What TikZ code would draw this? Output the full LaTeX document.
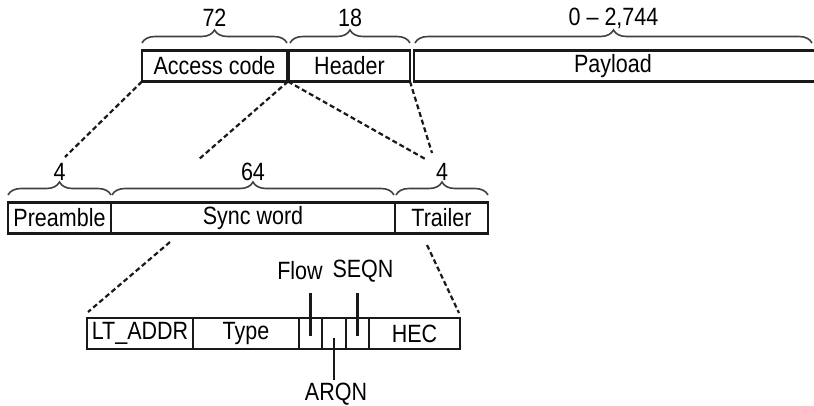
\documentclass[tikz,border=0pt]{standalone}
\usepackage{fontspec}
\setmainfont{Liberation Sans}[FakeStretch=0.86]
\usetikzlibrary{decorations.pathreplacing}
\tikzset{
  field/.style={draw=black!90,line width=2.3pt,minimum height=31pt,inner sep=0pt,outer sep=0pt,anchor=west},
  brc/.style={draw=black!75,line width=1.6pt,decorate,decoration={brace,amplitude=13pt}},
  zoomline/.style={draw=black!90,line width=2.2pt,dash pattern=on 5pt off 3pt},
  bitline/.style={draw=black!90,line width=2.2pt}
}
\begin{document}
\begin{tikzpicture}[x=1pt,y=-1pt,font=\fontsize{25}{29}\selectfont]
\pgfmathsetmacro{\ya}{66}
\pgfmathsetmacro{\yb}{218}
\pgfmathsetmacro{\yc}{333.5}
\clip(0,0)rectangle(814,405);
% packet
\node[field,minimum width=145pt](access)at(142,\ya){Access code};
\node[field,minimum width=121pt](header)at(289,\ya){Header};
\node[field,minimum width=420pt](payload)at(414,\ya){\hspace*{-22pt}Payload};
\draw[brc](142,43)--(287,43)node[midway,yshift=25pt]{72};
\draw[brc](290,43)--(410,43)node[midway,yshift=25pt]{18};
\draw[brc](415,43)--(812,43)node[midway,yshift=25pt]{0 -- 2,744};
% access code
\node[field,minimum width=103pt](pre)at(8,\yb){Preamble};
\node[field,minimum width=284pt](sync)at(111,\yb){Sync word};
\node[field,minimum width=93pt](trailer)at(395,\yb){Trailer};
\draw[brc](8,195)--(111,195)node[midway,yshift=23pt]{4};
\draw[brc](112,195)--(394,195)node[midway,yshift=23pt]{64};
\draw[brc](396,195)--(488,195)node[midway,yshift=23pt]{4};
\coordinate(pa)at(65,157);
\coordinate(pb)at(198,160);
\coordinate(pc)at(427,160);
\coordinate(pd)at(432,153);
\draw[zoomline](access.south west)--(pa);
\draw[zoomline]([xshift=1pt]access.south east)--(pb);
\draw[zoomline]([xshift=1pt]access.south east)--(pc);
\draw[zoomline](header.south east)--(pd);
% header
\node[field,minimum width=106pt](ltaddr)at(87,\yc){LT\_ADDR};
\node[field,minimum width=106pt](type)at(193,\yc){Type};
\node[field,minimum width=23pt](flowbox)at(299,\yc){};
\node[field,minimum width=24pt](arqnbox)at(322,\yc){};
\node[field,minimum width=23pt](seqnbox)at(346,\yc){};
\node[field,minimum width=91pt](hec)at(369,\yc){HEC};
\coordinate(sa)at(170,242);
\coordinate(sb)at(88,312);
\coordinate(ta)at(427,245);
\coordinate(tb)at(459,313);
\draw[zoomline](sa)--(sb);
\draw[zoomline](ta)--(tb);
\node(flow)at(300,271){Flow};
\node(seqn)at(363,271){SEQN};
\node(arqn)at(336,394){ARQN};
\draw[bitline](flowbox.center)++(0,2)--++(0,-43);
\draw[bitline](seqnbox.center)++(0,2)--++(0,-43);
\draw[bitline](arqnbox.center)++(0,4)--++(0,42);
\end{tikzpicture}
\end{document}
